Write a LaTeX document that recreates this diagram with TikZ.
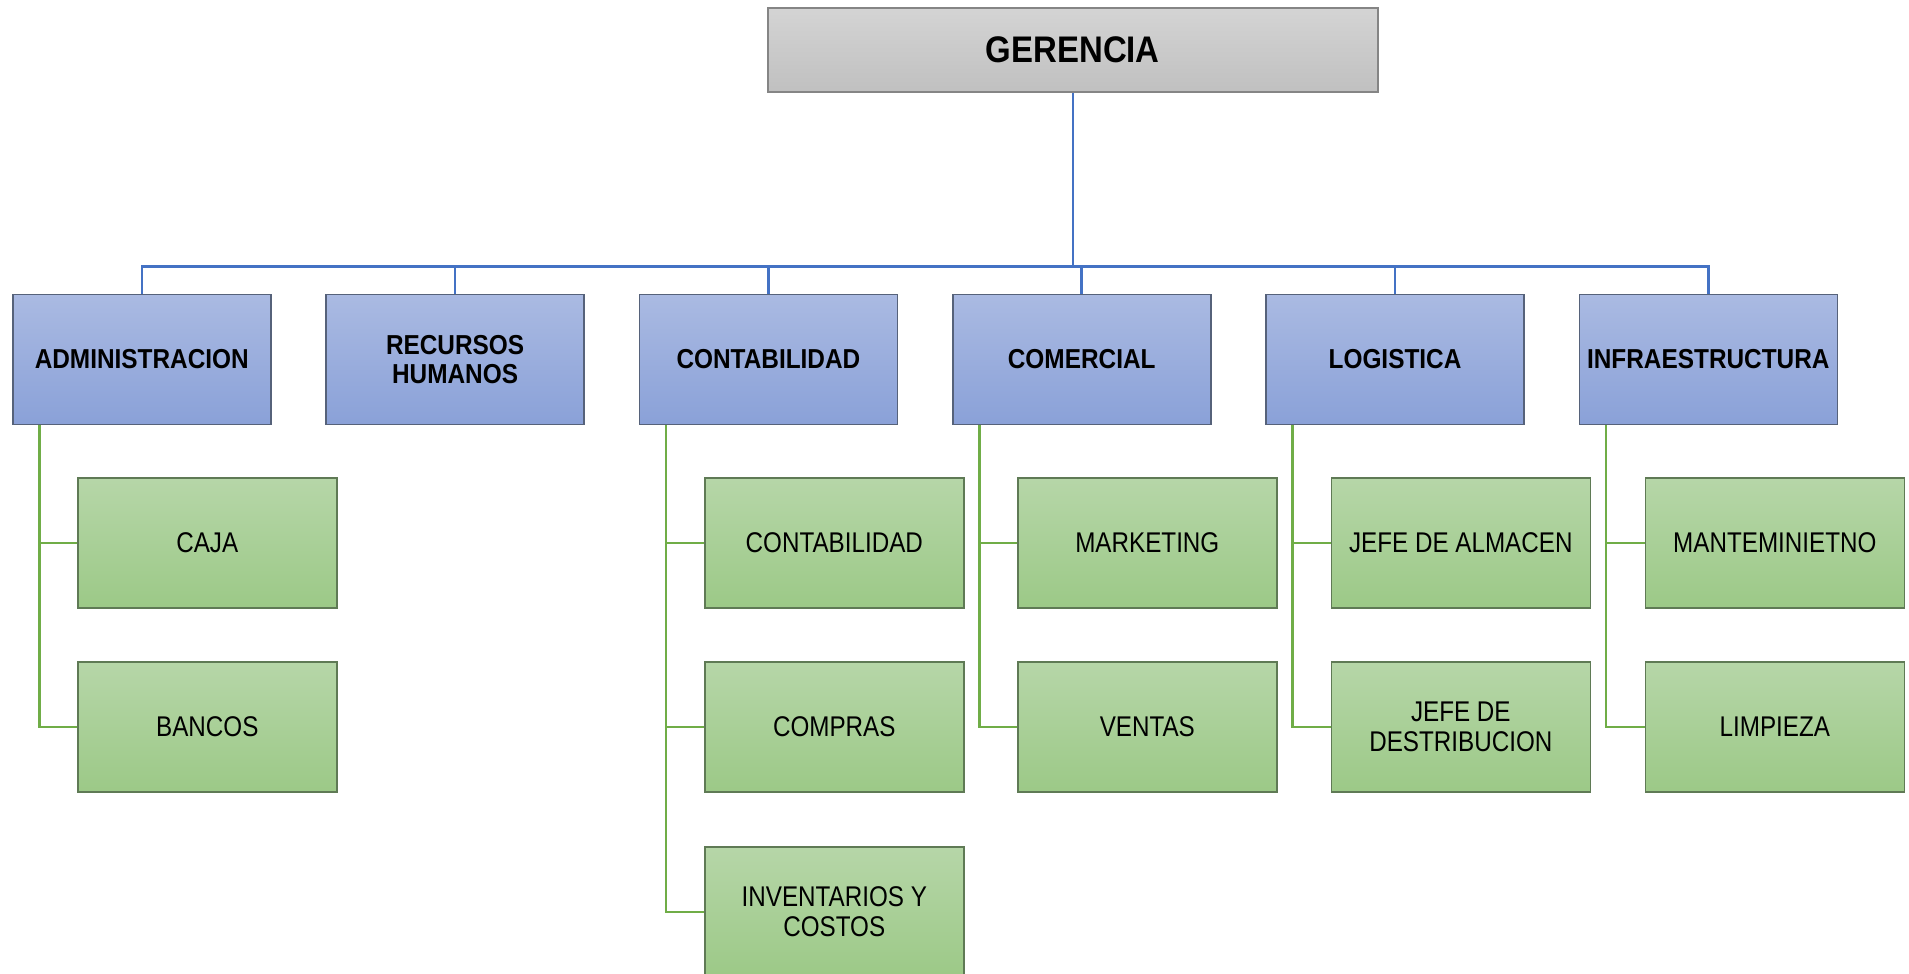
\documentclass[tikz,border=0pt]{standalone}
\usepackage{fontspec}
\setmainfont{Liberation Sans}[FakeStretch=0.89]
\newfontfamily\subfont{Liberation Sans}[FakeStretch=0.85]
\usetikzlibrary{calc}
\definecolor{gtop}{HTML}{D4D4D4}
\definecolor{gbot}{HTML}{C0C0C0}
\definecolor{gbrd}{HTML}{858585}
\definecolor{btop}{HTML}{AABAE2}
\definecolor{bbot}{HTML}{8AA1D8}
\definecolor{bbrd}{HTML}{56627A}
\definecolor{ntop}{HTML}{B6D6A8}
\definecolor{nbot}{HTML}{9CC987}
\definecolor{nbrd}{HTML}{5F7A55}
\definecolor{bline}{HTML}{4472C4}
\definecolor{nline}{HTML}{70AD47}
\tikzset{
  topbox/.style={rectangle, anchor=north west, inner sep=0pt, minimum width=610pt, minimum height=84pt,
    top color=gtop, bottom color=gbot, draw=gbrd, line width=1.6pt,
    font=\bfseries\fontsize{37}{40}\selectfont},
  deptbox/.style={rectangle, anchor=north west, inner sep=0pt, minimum width=258pt, minimum height=130pt,
    top color=btop, bottom color=bbot, draw=bbrd, line width=1.6pt, align=center,
    font=\bfseries\fontsize{27.4}{29}\selectfont},
  subbox/.style={rectangle, anchor=north west, inner sep=0pt, minimum width=259pt, minimum height=130pt,
    top color=ntop, bottom color=nbot, draw=nbrd, line width=1.6pt, align=center,
    font=\subfont\fontsize{28.5}{29.5}\selectfont},
  bconn/.style={draw=bline, line width=2.6pt},
  nconn/.style={draw=nline, line width=2.6pt},
}
\begin{document}
\begin{tikzpicture}[x=1pt,y=-1pt]
\useasboundingbox[fill=white] (0,0) rectangle (1909,974);
% top
\node[topbox] (ger) at (767,7) {GERENCIA};
% departments
\node[deptbox] (adm) at (12,293.5) {ADMINISTRACION};
\node[deptbox] (rrh) at (325.3,293.5) {RECURSOS\\HUMANOS};
\node[deptbox] (con) at (638.6,293.5) {CONTABILIDAD};
\node[deptbox] (com) at (951.9,293.5) {COMERCIAL};
\node[deptbox] (log) at (1265.2,293.5) {LOGISTICA};
\node[deptbox] (inf) at (1578.5,293.5) {INFRAESTRUCTURA};
% sub units
\node[subbox] (caja) at (77,477.3) {CAJA};
\node[subbox] (banc) at (77,661.2) {BANCOS};
\node[subbox] (ccon) at (704,477.3) {CONTABILIDAD};
\node[subbox] (comp) at (704,661.2) {COMPRAS};
\node[subbox] (inve) at (704,846) {INVENTARIOS Y\\COSTOS};
\node[subbox] (mark) at (1017,477.3) {MARKETING};
\node[subbox] (vent) at (1017,661.2) {VENTAS};
\node[subbox] (jalm) at (1330.5,477.3) {JEFE DE ALMACEN};
\node[subbox] (jdis) at (1330.5,661.2) {JEFE DE\\DESTRIBUCION};
\node[subbox] (mant) at (1644.5,477.3) {MANTEMINIETNO};
\node[subbox] (limp) at (1644.5,661.2) {LIMPIEZA};
% blue connectors
\coordinate (bus) at (0,266.6);
\draw[bconn] (ger.south) -- (ger.south |- bus);
\draw[bconn] (adm.north) |- (inf.north |- bus) -- (inf.north);
\foreach \n in {rrh,con,com,log} \draw[bconn] (\n.north) -- (\n.north |- bus);
% green connectors
\foreach \p/\last/\others in {adm/banc/{caja}, con/inve/{ccon,comp}, com/vent/{mark}, log/jdis/{jalm}, inf/limp/{mant}} {
  \coordinate (t) at ($(\p.south west)+(27.5,0)$);
  \draw[nconn] (t) |- (\last.west);
  \foreach \c in \others \draw[nconn] (t |- \c.west) -- (\c.west);
}
\end{tikzpicture}
\end{document}
